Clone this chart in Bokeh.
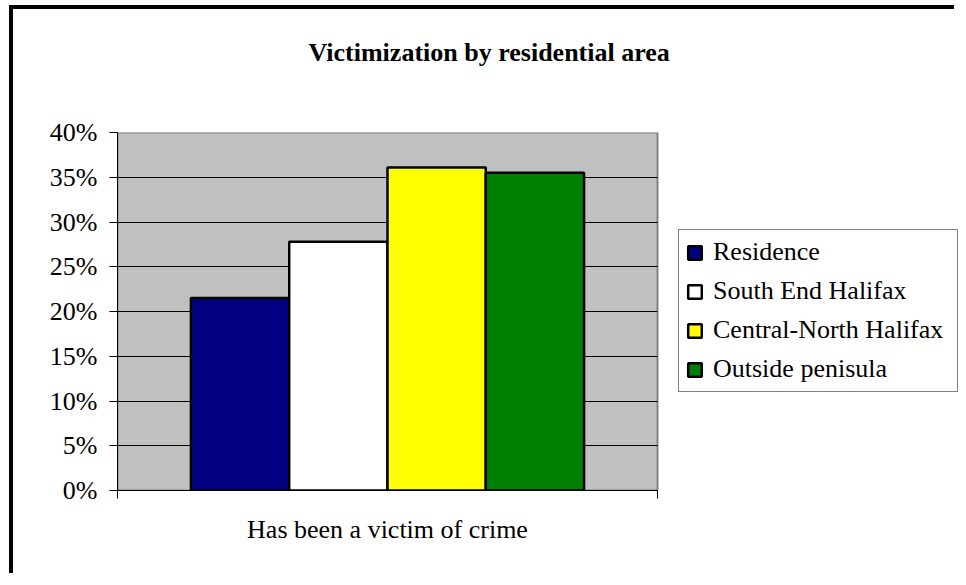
from bokeh.plotting import figure
from bokeh.models import Range1d, FixedTicker, NumeralTickFormatter, Legend, LegendItem, Title
from bokeh.embed import file_html
from bokeh.resources import INLINE

# ---- data ----
chart_title = "Victimization by residential area"
categories = ["Has been a victim of crime"]
series_names = ["Residence", "South End Halifax", "Central-North Halifax", "Outside penisula"]
series_values = [0.215, 0.278, 0.361, 0.355]
series_colors = ["#000080", "#FFFFFF", "#FFFF00", "#008000"]
y_tick_values = [0.0, 0.05, 0.10, 0.15, 0.20, 0.25, 0.30, 0.35, 0.40]

FONT = "Liberation Serif"

W, H = 945, 568
BL, BT, BB = 104, 123, 87
PLOT_PX = 540          # pixel width of the grey plot area
n_cat = len(categories)
x_end = n_cat * (W - BL) / PLOT_PX

p = figure(width=W, height=H,
           x_range=Range1d(0, x_end),
           y_range=Range1d(y_tick_values[0], y_tick_values[-1]),
           output_backend="svg", toolbar_location=None,
           min_border_left=BL, min_border_right=0,
           min_border_top=BT, min_border_bottom=BB)
p.styles = {"margin-top": "5px", "margin-left": "9px",
            "border-left": "4px solid black", "border-top": "4px solid black"}

p.background_fill_color = "white"
p.border_fill_color = "white"
p.outline_line_color = None

# grey plot area
p.quad(left=0, right=n_cat, bottom=y_tick_values[0], top=y_tick_values[-1],
       fill_color="#C0C0C0", line_color="#808080", line_width=2, level="image")

# spacer between title and plot area
p.add_layout(Title(text=" ", text_font=FONT, text_font_size="26px", standoff=33), "above")

# title
p.title.text = chart_title
p.title.align = "left"
p.title.offset = 191
p.title.vertical_align = "top"
p.title.text_font = FONT
p.title.text_font_style = "bold"
p.title.text_font_size = "26px"
p.title.text_color = "black"
p.title.standoff = 0

# bars
bar_w = 0.182
items = []
for i, (name, val, col) in enumerate(zip(series_names, series_values, series_colors)):
    xc = 0.5 + (i - (len(series_names) - 1) / 2) * bar_w
    r = p.vbar(x=[xc], top=[val], bottom=0, width=bar_w,
               fill_color=col, line_color="black", line_width=2.5)
    items.append(LegendItem(label=name, renderers=[r]))

# y axis
p.yaxis.ticker = FixedTicker(ticks=y_tick_values)
p.yaxis.formatter = NumeralTickFormatter(format="0%")
p.yaxis.major_label_text_font = FONT
p.yaxis.major_label_text_font_size = "26px"
p.yaxis.major_label_text_color = "black"
p.yaxis.major_tick_out = 8
p.yaxis.major_tick_in = 0
p.yaxis.minor_tick_line_color = None
p.yaxis.major_label_standoff = 12
p.yaxis.axis_line_color = "black"
p.yaxis.major_tick_line_color = "black"

# x axis
p.xaxis.ticker = FixedTicker(ticks=[0.5], minor_ticks=[0, n_cat])
p.xaxis.bounds = (0, n_cat)
p.xaxis.major_label_overrides = {0.5: categories[0]}
p.xaxis.major_label_text_font = FONT
p.xaxis.major_label_text_font_size = "26px"
p.xaxis.major_label_text_color = "black"
p.xaxis.major_tick_out = 0
p.xaxis.major_tick_in = 0
p.xaxis.minor_tick_out = 8
p.xaxis.minor_tick_in = 0
p.xaxis.minor_tick_line_color = "black"
p.xaxis.major_label_standoff = 16
p.xaxis.axis_line_color = "black"

# grid
p.xgrid.grid_line_color = None
p.ygrid.ticker = FixedTicker(ticks=y_tick_values[1:-1])
p.ygrid.cross_bounds = (0, n_cat)
p.ygrid.grid_line_color = "black"
p.ygrid.grid_line_width = 1
p.ygrid.level = "underlay"

legend = Legend(items=items, location=(561, 98))
legend.label_text_font = FONT
legend.label_text_font_size = "26px"
legend.label_text_color = "black"
legend.glyph_width = 17
legend.glyph_height = 17
legend.label_standoff = 10
legend.label_height = 30
legend.label_width = 237
legend.spacing = 9
legend.padding = 7
legend.margin = 0
legend.border_line_color = "black"
legend.border_line_width = 1
legend.background_fill_color = "white"
legend.background_fill_alpha = 1
p.add_layout(legend, "center")

open("out.html", "w").write(file_html(p, INLINE))
